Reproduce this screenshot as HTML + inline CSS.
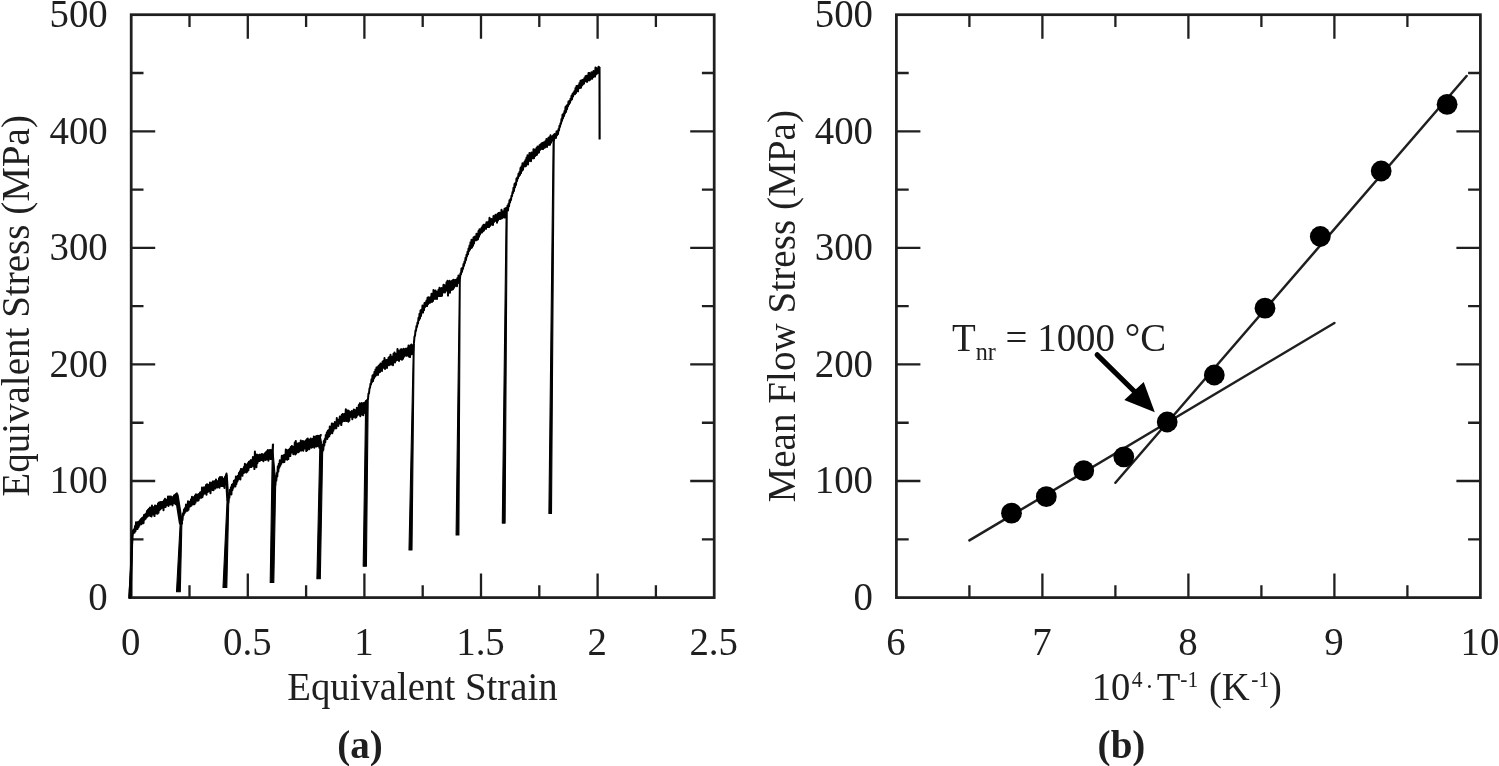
<!DOCTYPE html>
<html><head><meta charset="utf-8"><title>Figure</title>
<style>html,body{margin:0;padding:0;background:#fff;overflow:hidden}svg{display:block}</style></head>
<body><svg width="1499" height="766" viewBox="0 0 1499 766">
<rect width="1499" height="766" fill="#fff"/>
<rect x="131.2" y="14.7" width="583.00" height="582.90" fill="none" stroke="#1f1f1f" stroke-width="2.75"/>
<path d="M247.80 597.6v-24M247.80 14.7v24M364.40 597.6v-24M364.40 14.7v24M481.00 597.6v-24M481.00 14.7v24M597.60 597.6v-24M597.60 14.7v24M189.50 597.6v-12.3M189.50 14.7v12.3M306.10 597.6v-12.3M306.10 14.7v12.3M422.70 597.6v-12.3M422.70 14.7v12.3M539.30 597.6v-12.3M539.30 14.7v12.3M655.90 597.6v-12.3M655.90 14.7v12.3M131.2 481.02h24M714.2 481.02h-24M131.2 364.44h24M714.2 364.44h-24M131.2 247.86h24M714.2 247.86h-24M131.2 131.28h24M714.2 131.28h-24M131.2 539.31h12.3M714.2 539.31h-12.3M131.2 422.73h12.3M714.2 422.73h-12.3M131.2 306.15h12.3M714.2 306.15h-12.3M131.2 189.57h12.3M714.2 189.57h-12.3M131.2 72.99h12.3M714.2 72.99h-12.3" fill="none" stroke="#1f1f1f" stroke-width="2.3"/>
<rect x="896.4" y="14.7" width="584.00" height="582.90" fill="none" stroke="#1f1f1f" stroke-width="2.75"/>
<path d="M1042.40 597.6v-24M1042.40 14.7v24M1188.40 597.6v-24M1188.40 14.7v24M1334.40 597.6v-24M1334.40 14.7v24M969.40 597.6v-12.3M969.40 14.7v12.3M1115.40 597.6v-12.3M1115.40 14.7v12.3M1261.40 597.6v-12.3M1261.40 14.7v12.3M1407.40 597.6v-12.3M1407.40 14.7v12.3M896.4 481.02h24M1480.4 481.02h-24M896.4 364.44h24M1480.4 364.44h-24M896.4 247.86h24M1480.4 247.86h-24M896.4 131.28h24M1480.4 131.28h-24M896.4 539.31h12.3M1480.4 539.31h-12.3M896.4 422.73h12.3M1480.4 422.73h-12.3M896.4 306.15h12.3M1480.4 306.15h-12.3M896.4 189.57h12.3M1480.4 189.57h-12.3M896.4 72.99h12.3M1480.4 72.99h-12.3" fill="none" stroke="#1f1f1f" stroke-width="2.3"/>
<text transform="translate(107.80 609.90) scale(0.972 1)" text-anchor="end" font-family="Liberation Serif, serif" font-size="40" fill="#1f1f1f">0</text>
<text transform="translate(107.80 493.32) scale(0.972 1)" text-anchor="end" font-family="Liberation Serif, serif" font-size="40" fill="#1f1f1f">100</text>
<text transform="translate(107.80 376.74) scale(0.972 1)" text-anchor="end" font-family="Liberation Serif, serif" font-size="40" fill="#1f1f1f">200</text>
<text transform="translate(107.80 260.16) scale(0.972 1)" text-anchor="end" font-family="Liberation Serif, serif" font-size="40" fill="#1f1f1f">300</text>
<text transform="translate(107.80 143.58) scale(0.972 1)" text-anchor="end" font-family="Liberation Serif, serif" font-size="40" fill="#1f1f1f">400</text>
<text transform="translate(107.80 27.00) scale(0.972 1)" text-anchor="end" font-family="Liberation Serif, serif" font-size="40" fill="#1f1f1f">500</text>
<text transform="translate(873.00 609.90) scale(0.972 1)" text-anchor="end" font-family="Liberation Serif, serif" font-size="40" fill="#1f1f1f">0</text>
<text transform="translate(873.00 493.32) scale(0.972 1)" text-anchor="end" font-family="Liberation Serif, serif" font-size="40" fill="#1f1f1f">100</text>
<text transform="translate(873.00 376.74) scale(0.972 1)" text-anchor="end" font-family="Liberation Serif, serif" font-size="40" fill="#1f1f1f">200</text>
<text transform="translate(873.00 260.16) scale(0.972 1)" text-anchor="end" font-family="Liberation Serif, serif" font-size="40" fill="#1f1f1f">300</text>
<text transform="translate(873.00 143.58) scale(0.972 1)" text-anchor="end" font-family="Liberation Serif, serif" font-size="40" fill="#1f1f1f">400</text>
<text transform="translate(873.00 27.00) scale(0.972 1)" text-anchor="end" font-family="Liberation Serif, serif" font-size="40" fill="#1f1f1f">500</text>
<text transform="translate(130.70 655.40) scale(0.972 1)" text-anchor="middle" font-family="Liberation Serif, serif" font-size="40" fill="#1f1f1f">0</text>
<text transform="translate(247.30 655.40) scale(0.972 1)" text-anchor="middle" font-family="Liberation Serif, serif" font-size="40" fill="#1f1f1f">0.5</text>
<text transform="translate(363.90 655.40) scale(0.972 1)" text-anchor="middle" font-family="Liberation Serif, serif" font-size="40" fill="#1f1f1f">1</text>
<text transform="translate(480.50 655.40) scale(0.972 1)" text-anchor="middle" font-family="Liberation Serif, serif" font-size="40" fill="#1f1f1f">1.5</text>
<text transform="translate(597.10 655.40) scale(0.972 1)" text-anchor="middle" font-family="Liberation Serif, serif" font-size="40" fill="#1f1f1f">2</text>
<text transform="translate(713.70 655.40) scale(0.972 1)" text-anchor="middle" font-family="Liberation Serif, serif" font-size="40" fill="#1f1f1f">2.5</text>
<text transform="translate(895.90 655.40) scale(0.972 1)" text-anchor="middle" font-family="Liberation Serif, serif" font-size="40" fill="#1f1f1f">6</text>
<text transform="translate(1041.90 655.40) scale(0.972 1)" text-anchor="middle" font-family="Liberation Serif, serif" font-size="40" fill="#1f1f1f">7</text>
<text transform="translate(1187.90 655.40) scale(0.972 1)" text-anchor="middle" font-family="Liberation Serif, serif" font-size="40" fill="#1f1f1f">8</text>
<text transform="translate(1333.90 655.40) scale(0.972 1)" text-anchor="middle" font-family="Liberation Serif, serif" font-size="40" fill="#1f1f1f">9</text>
<text transform="translate(1479.90 655.40) scale(0.972 1)" text-anchor="middle" font-family="Liberation Serif, serif" font-size="40" fill="#1f1f1f">10</text>
<text transform="translate(422.40 699.50) scale(0.97 1)" text-anchor="middle" font-family="Liberation Serif, serif" font-size="40" fill="#1f1f1f">Equivalent Strain</text>
<text transform="translate(1090 0) scale(0.965 1)" font-family="Liberation Serif, serif" font-size="40" fill="#1f1f1f"><tspan x="1.87" y="700.1" font-size="40">10</tspan><tspan x="43.21" y="687.4" font-size="22.3">4</tspan><tspan x="57.20" y="695.2" font-size="26">·</tspan><tspan x="69.12" y="700.1" font-size="40">T</tspan><tspan x="93.58" y="687.4" font-size="22.3">-1</tspan><tspan x="123.32" y="700.1" font-size="40">(K</tspan><tspan x="167.15" y="687.4" font-size="22.3">-1</tspan><tspan x="185.39" y="700.1" font-size="40">)</tspan></text>
<text transform="translate(29.30 305.90) rotate(-90) scale(0.976 1)" text-anchor="middle" font-family="Liberation Serif, serif" font-size="40" fill="#1f1f1f">Equivalent Stress (MPa)</text>
<text transform="translate(794.60 306.30) rotate(-90) scale(0.979 1)" text-anchor="middle" font-family="Liberation Serif, serif" font-size="40" fill="#1f1f1f">Mean Flow Stress (MPa)</text>
<text transform="translate(360.00 758.40) scale(0.99 1)" text-anchor="middle" font-family="Liberation Serif, serif" font-weight="bold" font-size="39.5" fill="#1f1f1f">(a)</text>
<text transform="translate(1121.50 758.40) scale(0.99 1)" text-anchor="middle" font-family="Liberation Serif, serif" font-weight="bold" font-size="39.5" fill="#1f1f1f">(b)</text>
<path d="M129.3 598 L131.0 570 L132.5 533 L132.5 535.6 133.0 530.4 133.5 533.3 134.0 529.2 134.5 532.6 135.0 526.0 135.5 531.3 136.0 522.3 136.5 529.0 137.0 522.8 137.5 529.0 138.0 521.9 138.5 527.2 139.0 521.4 139.5 525.5 140.0 520.2 140.5 523.8 141.0 519.1 141.5 524.2 142.0 518.1 142.5 522.9 143.0 517.2 143.5 523.2 144.0 515.1 144.5 519.7 145.0 514.4 145.5 518.8 146.0 513.6 146.5 517.4 147.0 511.1 147.5 516.4 148.0 509.7 148.5 515.8 149.0 508.7 149.5 515.6 150.0 507.6 150.5 516.0 151.0 509.8 151.5 516.5 152.0 505.6 152.5 514.4 153.0 506.9 153.5 514.5 154.0 508.0 154.5 516.1 155.0 505.6 155.5 513.3 156.0 505.7 156.5 513.4 157.0 506.1 157.5 513.8 158.0 503.6 158.5 512.8 159.0 502.4 159.5 510.1 160.0 502.2 160.5 509.1 161.0 501.9 161.5 508.0 162.0 502.0 162.5 506.9 163.0 501.7 163.5 510.2 164.0 500.3 164.5 505.8 165.0 498.7 165.5 507.1 166.0 500.2 166.5 505.4 167.0 499.4 167.5 504.4 168.0 496.4 168.5 505.9 169.0 496.8 169.5 504.6 170.0 496.4 170.5 504.5 171.0 496.5 171.5 503.0 172.0 498.0 172.5 505.4 173.0 497.1 173.5 503.3 174.0 495.5 174.5 503.1 175.0 495.0 175.5 504.2 176.0 494.4 L176.8 493.3 M181.5 522.0 L181.5 523.4 182.0 517.8 182.5 520.2 183.0 513.2 183.5 515.4 184.0 509.6 184.5 513.5 185.0 508.1 185.5 511.8 186.0 504.5 186.5 510.8 187.0 505.2 187.5 510.7 188.0 501.3 188.5 509.7 189.0 502.2 189.5 506.7 190.0 501.5 190.5 506.3 191.0 499.2 191.5 505.5 192.0 496.8 192.5 504.2 193.0 498.2 193.5 504.3 194.0 497.1 194.5 504.2 195.0 495.6 195.5 502.6 196.0 494.3 196.5 500.4 197.0 495.8 197.5 500.7 198.0 494.4 198.5 500.4 199.0 493.9 199.5 498.4 200.0 492.6 200.5 497.5 201.0 492.1 201.5 497.7 202.0 487.6 202.5 497.0 203.0 489.6 203.5 494.4 204.0 487.3 204.5 492.9 205.0 487.2 205.5 493.6 206.0 485.1 206.5 494.7 207.0 484.3 207.5 491.9 208.0 484.8 208.5 491.6 209.0 484.9 209.5 490.7 210.0 482.6 210.5 493.3 211.0 483.5 211.5 489.0 212.0 482.6 212.5 489.9 213.0 481.3 213.5 490.3 214.0 482.5 214.5 488.5 215.0 481.0 215.5 488.4 216.0 479.5 216.5 486.3 217.0 481.5 217.5 487.4 218.0 481.0 218.5 485.8 219.0 478.2 219.5 487.7 220.0 477.0 220.5 485.6 221.0 477.8 221.5 486.1 222.0 477.1 222.5 486.0 223.0 479.2 223.5 486.2 224.0 478.6 224.5 488.0 225.0 476.9 225.5 484.4 L226.5 473.5 M228.4 499.0 L228.4 502.8 228.9 494.0 229.4 497.8 229.9 489.8 230.4 494.1 230.9 487.2 231.4 494.5 231.9 484.7 232.4 490.1 232.9 484.0 233.4 487.8 233.9 480.8 234.4 485.3 234.9 479.9 235.4 486.4 235.9 476.6 236.4 483.9 236.9 476.8 237.4 481.5 237.9 475.8 238.4 479.5 238.9 473.0 239.4 478.1 239.9 471.3 240.4 479.4 240.9 469.1 241.4 475.2 241.9 468.9 242.4 475.8 242.9 469.5 243.4 473.1 243.9 466.9 244.4 472.6 244.9 463.7 245.4 471.5 245.9 466.5 246.4 472.5 246.9 464.5 247.4 471.6 247.9 463.3 248.4 470.1 248.9 461.8 249.4 467.5 249.9 461.3 250.4 467.0 250.9 460.1 251.4 467.1 251.9 460.3 252.4 465.3 252.9 457.1 253.4 466.1 253.9 457.0 254.4 469.1 254.9 451.5 255.4 462.8 255.9 454.8 256.4 467.3 256.9 454.6 257.4 463.2 257.9 454.9 258.4 461.3 258.9 455.5 259.4 460.9 259.9 454.6 260.4 460.5 260.9 455.3 261.4 459.9 261.9 454.1 262.4 459.9 262.9 454.6 263.4 461.2 263.9 454.5 264.4 459.6 264.9 453.3 265.4 459.9 265.9 452.2 266.4 459.6 266.9 451.2 267.4 457.7 267.9 449.9 268.4 460.7 268.9 450.7 269.4 458.7 269.9 449.9 270.4 459.0 270.9 449.9 271.4 459.1 271.9 450.1 272.4 455.8 L273.1 444.5 M275.3 482.0 L275.3 485.1 275.8 475.9 276.3 480.6 276.8 473.0 277.3 476.5 277.8 466.2 278.3 471.6 278.8 463.7 279.3 467.7 279.8 460.3 280.3 465.7 280.8 460.5 281.3 463.8 281.8 455.8 282.3 461.9 282.8 455.7 283.3 462.2 283.8 455.3 284.3 462.1 284.8 454.7 285.3 459.4 285.8 449.5 286.3 459.2 286.8 450.2 287.3 459.7 287.8 450.3 288.3 459.1 288.8 449.8 289.3 455.8 289.8 448.8 290.3 456.1 290.8 447.0 291.3 452.7 291.8 446.1 292.3 451.9 292.8 446.8 293.3 454.3 293.8 447.0 294.3 451.3 294.8 442.4 295.3 454.5 295.8 440.9 296.3 453.4 296.8 444.2 297.3 451.8 297.8 443.6 298.3 452.3 298.8 443.3 299.3 451.4 299.8 442.9 300.3 449.6 300.8 440.4 301.3 450.6 301.8 444.0 302.3 449.4 302.8 440.9 303.3 450.8 303.8 441.6 304.3 448.6 304.8 441.5 305.3 447.3 305.8 440.6 306.3 451.1 306.8 439.2 307.3 450.1 307.8 438.5 308.3 448.2 308.8 440.6 309.3 449.3 309.8 439.6 310.3 446.7 310.8 438.5 311.3 447.7 311.8 440.3 312.3 447.2 312.8 438.7 313.3 445.3 313.8 436.6 314.3 447.8 314.8 437.0 315.3 445.0 315.8 436.4 316.3 446.6 316.8 436.0 317.3 446.1 317.8 435.7 318.3 445.6 318.8 436.0 319.3 447.8 319.8 437.3 L320.8 435.0 M322.3 449.0 L322.3 452.0 322.8 444.7 323.3 449.9 323.8 441.1 324.3 445.4 324.8 438.9 325.3 442.2 325.8 434.9 326.3 438.6 326.8 432.6 327.3 439.0 327.8 430.7 328.3 437.0 328.8 430.1 329.3 436.2 329.8 426.4 330.3 433.9 330.8 427.2 331.3 431.7 331.8 423.6 332.3 433.2 332.8 423.8 333.3 430.8 333.8 424.1 334.3 428.6 334.8 422.0 335.3 428.2 335.8 422.3 336.3 428.3 336.8 418.1 337.3 425.2 337.8 420.4 338.3 426.0 338.8 419.4 339.3 423.5 339.8 416.6 340.3 423.4 340.8 416.8 341.3 425.1 341.8 414.7 342.3 421.7 342.8 414.0 343.3 419.9 343.8 414.6 344.3 421.1 344.8 413.8 345.3 420.4 345.8 409.2 346.3 421.1 346.8 410.5 347.3 420.7 347.8 410.5 348.3 421.8 348.8 410.8 349.3 420.8 349.8 412.3 350.3 417.0 350.8 411.9 351.3 416.5 351.8 410.9 352.3 419.2 352.8 411.4 353.3 417.3 353.8 409.6 354.3 416.8 354.8 410.1 355.3 417.7 355.8 410.6 356.3 417.3 356.8 407.8 357.3 415.5 357.8 408.5 358.3 414.2 358.8 405.0 359.3 414.7 359.8 403.3 360.3 416.2 360.8 405.3 361.3 411.9 361.8 403.0 362.3 414.8 362.8 405.5 363.3 415.3 363.8 403.0 364.3 412.9 364.8 402.4 365.3 410.1 L366.0 401.0 M368.0 398.0 L368.0 398.9 368.5 393.4 369.0 393.4 369.5 388.3 370.0 388.0 370.5 383.8 371.0 384.4 371.5 379.3 372.0 382.2 372.5 375.5 373.0 381.1 373.5 374.5 374.0 378.3 374.5 371.7 375.0 376.6 375.5 369.5 376.0 375.5 376.5 367.6 377.0 373.9 377.5 367.2 378.0 374.9 378.5 365.9 379.0 372.4 379.5 364.9 380.0 371.9 380.5 363.6 381.0 370.0 381.5 364.3 382.0 371.0 382.5 361.7 383.0 367.9 383.5 360.8 384.0 367.1 384.5 358.1 385.0 369.0 385.5 360.9 386.0 367.2 386.5 359.9 387.0 368.0 387.5 359.7 388.0 364.0 388.5 357.8 389.0 365.2 389.5 356.7 390.0 363.5 390.5 354.7 391.0 364.7 391.5 357.2 392.0 363.8 392.5 356.6 393.0 365.3 393.5 353.8 394.0 361.5 394.5 352.6 395.0 362.4 395.5 353.8 396.0 360.6 396.5 353.7 397.0 358.2 397.5 348.9 398.0 360.1 398.5 350.8 399.0 360.9 399.5 351.7 400.0 358.7 400.5 349.6 401.0 359.2 401.5 349.2 402.0 359.8 402.5 350.2 403.0 358.7 403.5 348.8 404.0 356.8 404.5 349.9 405.0 355.2 405.5 348.7 406.0 355.8 406.5 349.3 407.0 355.7 407.5 347.9 408.0 354.9 408.5 345.6 409.0 356.6 409.5 347.2 410.0 357.1 410.5 345.3 411.0 354.2 411.5 344.4 412.0 354.2 412.5 346.4 413.0 353.2 L413.7 344.5 M414.0 341.0 L414.0 342.3 414.5 336.4 415.0 335.8 415.5 330.4 416.0 330.7 416.5 325.9 417.0 326.8 417.5 322.4 418.0 323.6 418.5 317.8 419.0 320.2 419.5 313.8 420.0 318.5 420.5 310.5 421.0 315.9 421.5 309.8 422.0 312.5 422.5 305.6 423.0 312.6 423.5 305.8 424.0 310.1 424.5 303.1 425.0 307.1 425.5 302.6 426.0 305.9 426.5 300.5 427.0 306.1 427.5 297.8 428.0 304.2 428.5 297.2 429.0 302.9 429.5 298.0 430.0 302.7 430.5 297.0 431.0 301.7 431.5 293.8 432.0 302.0 432.5 294.1 433.0 300.9 433.5 290.1 434.0 298.7 434.5 293.3 435.0 299.0 435.5 290.4 436.0 298.6 436.5 292.1 437.0 299.0 437.5 291.4 438.0 295.9 438.5 289.8 439.0 296.1 439.5 287.8 440.0 296.1 440.5 289.1 441.0 296.1 441.5 288.1 442.0 295.8 442.5 288.1 443.0 292.4 443.5 284.8 444.0 292.3 444.5 285.3 445.0 292.5 445.5 285.5 446.0 290.8 446.5 282.3 447.0 290.3 447.5 280.8 448.0 295.6 448.5 281.8 449.0 291.2 449.5 280.8 450.0 292.7 450.5 282.3 451.0 290.0 451.5 281.3 452.0 289.8 452.5 280.6 453.0 289.3 453.5 279.8 454.0 287.8 454.5 280.3 455.0 286.2 455.5 280.0 456.0 285.3 456.5 279.5 457.0 286.2 457.5 277.9 458.0 282.8 458.5 275.4 459.0 282.9 L459.8 277.0 M460.0 276.0 L460.0 278.4 460.5 273.2 461.0 274.4 461.5 268.4 462.0 271.9 462.5 267.7 463.0 268.8 463.5 264.1 464.0 265.9 464.5 261.4 465.0 263.0 465.5 257.8 466.0 260.1 466.5 254.8 467.0 256.5 467.5 251.8 468.0 254.3 468.5 248.6 469.0 251.2 469.5 245.5 470.0 249.6 470.5 242.3 471.0 248.1 471.5 239.7 472.0 247.4 472.5 240.0 473.0 245.7 473.5 237.4 474.0 243.5 474.5 236.7 475.0 240.3 475.5 236.6 476.0 240.3 476.5 233.7 477.0 239.8 477.5 233.7 478.0 239.2 478.5 231.1 479.0 236.7 479.5 229.2 480.0 234.4 480.5 229.3 481.0 232.7 481.5 228.0 482.0 232.5 482.5 226.2 483.0 231.2 483.5 224.8 484.0 230.5 484.5 225.2 485.0 228.8 485.5 224.3 486.0 228.8 486.5 222.2 487.0 227.1 487.5 222.4 488.0 226.9 488.5 221.6 489.0 227.1 489.5 217.8 490.0 226.0 490.5 219.5 491.0 224.2 491.5 218.9 492.0 224.7 492.5 219.1 493.0 224.9 493.5 216.0 494.0 222.0 494.5 216.4 495.0 220.9 495.5 214.8 496.0 220.2 496.5 215.7 497.0 222.8 497.5 214.1 498.0 220.5 498.5 213.1 499.0 218.3 499.5 212.7 500.0 219.1 500.5 212.8 501.0 218.6 501.5 209.8 502.0 218.2 502.5 211.7 503.0 215.9 503.5 211.2 504.0 217.5 504.5 208.8 505.0 217.6 505.5 208.6 L506.5 207.8 M507.0 209.0 L507.0 210.4 507.5 205.7 508.0 210.4 508.5 203.8 509.0 206.3 509.5 200.3 510.0 202.5 510.5 198.9 511.0 200.0 511.5 195.7 512.0 196.1 512.5 192.0 513.0 193.1 513.5 187.7 514.0 191.0 514.5 184.1 515.0 187.3 515.5 182.7 516.0 184.9 516.5 178.4 517.0 181.1 517.5 177.2 518.0 178.4 518.5 173.7 519.0 176.2 519.5 171.9 520.0 175.0 520.5 168.0 521.0 173.1 521.5 166.2 522.0 170.8 522.5 163.2 523.0 169.7 523.5 163.4 524.0 166.3 524.5 161.8 525.0 166.4 525.5 160.1 526.0 165.9 526.5 157.5 527.0 164.0 527.5 155.3 528.0 164.5 528.5 156.7 529.0 161.1 529.5 152.9 530.0 159.5 530.5 154.2 531.0 161.2 531.5 152.4 532.0 157.7 532.5 152.6 533.0 158.3 533.5 149.2 534.0 158.2 534.5 149.8 535.0 156.1 535.5 149.5 536.0 155.2 536.5 148.0 537.0 154.8 537.5 146.5 538.0 152.8 538.5 147.1 539.0 152.5 539.5 145.3 540.0 149.9 540.5 144.4 541.0 148.7 541.5 143.4 542.0 149.0 542.5 143.0 543.0 149.1 543.5 142.4 544.0 147.9 544.5 142.2 545.0 147.4 545.5 140.9 546.0 146.4 546.5 138.9 547.0 146.9 547.5 140.0 548.0 143.8 548.5 137.7 549.0 145.0 549.5 137.3 550.0 144.8 550.5 135.3 551.0 142.7 551.5 136.8 552.0 140.9 552.5 136.5 L553.5 135.2 M554.0 138.0 L554.0 140.2 554.5 134.1 555.0 138.2 555.5 134.0 556.0 137.8 556.5 131.5 557.0 135.3 557.5 130.9 558.0 134.2 558.5 129.0 559.0 130.5 559.5 125.7 560.0 126.8 560.5 123.2 561.0 123.8 561.5 118.9 562.0 121.0 562.5 114.8 563.0 118.5 563.5 113.6 564.0 116.1 564.5 111.1 565.0 113.5 565.5 107.0 566.0 111.9 566.5 105.8 567.0 109.3 567.5 104.7 568.0 106.3 568.5 101.4 569.0 104.4 569.5 100.8 570.0 102.9 570.5 98.7 571.0 100.2 571.5 95.8 572.0 99.4 572.5 94.1 573.0 96.5 573.5 92.6 574.0 94.4 574.5 90.9 575.0 94.2 575.5 88.1 576.0 93.0 576.5 86.1 577.0 90.8 577.5 86.0 578.0 91.3 578.5 85.3 579.0 88.1 579.5 82.9 580.0 87.9 580.5 80.8 581.0 87.7 581.5 80.5 582.0 85.5 582.5 80.0 583.0 84.4 583.5 79.5 584.0 83.6 584.5 78.0 585.0 81.5 585.5 76.2 586.0 80.9 586.5 75.8 587.0 81.9 587.5 76.3 588.0 80.2 588.5 73.1 589.0 80.4 589.5 73.1 590.0 79.8 590.5 74.3 591.0 77.8 591.5 72.2 592.0 78.8 592.5 72.5 593.0 77.3 593.5 71.0 594.0 76.6 594.5 71.0 595.0 76.6 595.5 67.6 596.0 74.5 596.5 68.2 597.0 73.7 597.5 69.9 598.0 73.1 598.5 66.8 L599.1 67.3" fill="none" stroke="#000" stroke-width="2" stroke-linejoin="round" stroke-linecap="round"/>
<path d="M180.2 523.0 L176.5 591.8 L180.3 591.8 L181.9 522.0ZM227.1 500.0 L223.0 587.5 L226.8 587.5 L228.8 499.0ZM272.4 444.5 L270.2 582.5 L273.8 582.5 L275.7 482.0ZM320.1 435.0 L316.9 578.7 L320.3 578.7 L322.7 449.0ZM365.7 401.0 L363.2 566.2 L366.4 566.2 L368.2 398.0ZM413.4 344.5 L409.0 550.0 L412.0 550.0 L414.2 341.0ZM459.5 277.0 L456.1 534.9 L458.9 534.9 L460.2 276.0ZM506.2 207.8 L502.3 523.1 L505.1 523.1 L507.2 209.0ZM553.2 135.2 L548.9 513.5 L551.5 513.5 L554.2 138.0ZM599.0 67.3 L599.1 139.0 L600.1 139.0 L600.0 67.3Z" fill="#000" stroke="#000" stroke-width="1.1" stroke-linejoin="round"/>
<path d="M176.6 495.3 L180.9 523.0" stroke="#000" stroke-width="4.2" stroke-linecap="round" fill="none"/>
<path d="M226.3 475.5 L227.8 500.0" stroke="#000" stroke-width="3.0" stroke-linecap="round" fill="none"/>
<path d="M128.3 598.3 L131.6 598.3 L133.4 534 L131.6 534 Z" fill="#000"/>
<path d="M969.4 540.4 L1334.4 323 M1115.4 482.7 L1466.6 76" fill="none" stroke="#1f1f1f" stroke-width="2.5" stroke-linecap="round"/>
<circle cx="1011.5" cy="513.2" r="10.4" fill="#000"/>
<circle cx="1046.3" cy="496.7" r="10.4" fill="#000"/>
<circle cx="1083.7" cy="470.7" r="10.4" fill="#000"/>
<circle cx="1123.8" cy="456.8" r="10.4" fill="#000"/>
<circle cx="1167.2" cy="422" r="10.4" fill="#000"/>
<circle cx="1214.3" cy="375" r="10.4" fill="#000"/>
<circle cx="1265" cy="308.2" r="10.4" fill="#000"/>
<circle cx="1320.3" cy="236.5" r="10.4" fill="#000"/>
<circle cx="1381.2" cy="171" r="10.4" fill="#000"/>
<circle cx="1447.1" cy="104.3" r="10.4" fill="#000"/>
<path d="M1097.2 354.8 L1136 393" stroke="#000" stroke-width="5.2" stroke-linecap="round" fill="none"/>
<path d="M1154.8 412.3 L1143.7 382.0 L1124.3 400.1 Z" fill="#000"/>
<text transform="translate(952.00 350.90) scale(0.948 1)" text-anchor="start" font-family="Liberation Serif, serif" font-size="41" fill="#1f1f1f">T<tspan font-size="25.5" dy="9.2">nr</tspan><tspan dy="-9.2"> = 1000 °C</tspan></text>
</svg></body></html>
